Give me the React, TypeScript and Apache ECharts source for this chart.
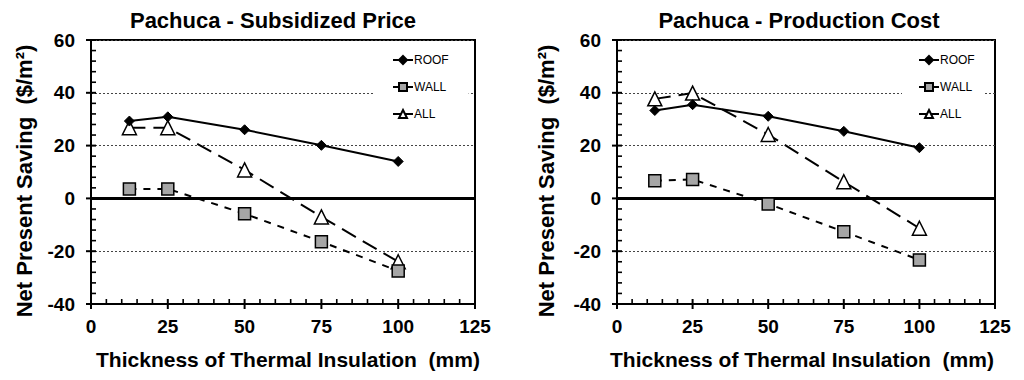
import React, { useEffect, useRef } from "react";
import * as echarts from "echarts";

const xValues = [12.5, 25, 50, 75, 100];
const seriesNames = ["ROOF", "WALL", "ALL"];
const subsidizedRoof = [29.3, 30.9, 26.0, 20.1, 14.0];
const subsidizedWall = [3.6, 3.6, -5.8, -16.4, -27.5];
const subsidizedAll = [26.8, 26.8, 10.8, -7.0, -24.0];
const productionRoof = [33.3, 35.5, 31.1, 25.4, 19.2];
const productionWall = [6.7, 7.2, -2.1, -12.6, -23.3];
const productionAll = [37.7, 39.9, 24.2, 6.3, -11.3];
const titles = ["Pachuca - Subsidized Price", "Pachuca - Production Cost"];
const xAxisTitle = "Thickness of Thermal Insulation  (mm)";
const yAxisTitle = "Net Present Saving  ($/m\u00B2)";
const xRange = { min: 0, max: 125, interval: 25 };
const yRange = { min: -40, max: 60, interval: 20 };

const xMajorTicks = [0, 25, 50, 75, 100, 125];
const xMinorTicks = [5, 10, 15, 20, 30, 35, 40, 45, 55, 60, 65, 70, 80, 85, 90, 95, 105, 110, 115, 120];
const yMajorTicks = [-40, -20, 0, 20, 40, 60];
const yMinorTicks = [-36, -32, -28, -24, -16, -12, -8, -4, 4, 8, 12, 16, 24, 28, 32, 36, 44, 48, 52, 56];

const FONT = "'Liberation Sans', Arial, sans-serif";

const grids = [
  { left: 91, top: 40, width: 384, height: 264 },
  { left: 617, top: 40, width: 378, height: 264 },
];

function pairs(vals: number[]) {
  return xValues.map((x, i) => [x, vals[i]]);
}

// kind: 0 = x major, 1 = x minor, 2 = y major, 3 = y minor
const tickData = [
  ...xMajorTicks.map((v) => [v, 0]),
  ...xMinorTicks.map((v) => [v, 1]),
  ...yMajorTicks.map((v) => [v, 2]),
  ...yMinorTicks.map((v) => [v, 3]),
];

function renderTick(params: any, api: any) {
  const v = api.value(0);
  const k = api.value(1);
  let x1, y1, x2, y2, w;
  if (k === 0 || k === 1) {
    const p = api.coord([v, yRange.min]);
    x1 = p[0];
    x2 = p[0];
    y1 = k === 0 ? p[1] + 5 : p[1];
    y2 = p[1] - 5;
    w = k === 0 ? 2 : 1.6;
  } else {
    const p = api.coord([xRange.min, v]);
    y1 = p[1];
    y2 = p[1];
    x1 = k === 2 ? p[0] - 5 : p[0];
    x2 = p[0] + 5;
    w = k === 2 ? 2 : 1.6;
  }
  return {
    type: "line",
    shape: { x1, y1, x2, y2 },
    style: { stroke: "#000", lineWidth: w },
  };
}

export default function App() {
  const ref = useRef<HTMLDivElement>(null);
  useEffect(() => {
    if (!ref.current) return;
    const chart = echarts.init(ref.current, null, { renderer: "svg" });

    const xAxes: any[] = [];
    const yAxes: any[] = [];
    grids.forEach((_, g) => {
      xAxes.push({
        type: "value",
        gridIndex: g,
        position: "bottom",
        ...xRange,
        axisLine: { show: true, onZero: false, lineStyle: { color: "#000", width: 2 } },
        axisTick: { show: false },
        minorTick: { show: false },
        axisLabel: { fontSize: 19, fontWeight: "bold", color: "#000", fontFamily: FONT, margin: 13 },
        splitLine: { show: false },
      });
      yAxes.push({
        type: "value",
        gridIndex: g,
        position: "left",
        ...yRange,
        axisLine: { show: true, onZero: false, lineStyle: { color: "#000", width: 2 } },
        axisTick: { show: false },
        minorTick: { show: false },
        axisLabel: { fontSize: 19, fontWeight: "bold", color: "#000", fontFamily: FONT, margin: 16 },
        splitLine: { show: true, lineStyle: { color: "#444", width: 1, type: [2, 2] } },
      });
    });

    const dataSets = [
      [subsidizedRoof, subsidizedWall, subsidizedAll],
      [productionRoof, productionWall, productionAll],
    ];

    const series: any[] = [];
    dataSets.forEach((set, g) => {
      series.push({
        name: "ROOF",
        type: "line",
        xAxisIndex: g,
        yAxisIndex: g,
        data: pairs(set[0]),
        symbol: "diamond",
        symbolSize: 10,
        lineStyle: { color: "#000", width: 2, type: "solid" },
        itemStyle: { color: "#000", borderColor: "#000", borderWidth: 1 },
        z: 5,
        markLine: {
          silent: true,
          symbol: "none",
          label: { show: false },
          lineStyle: { color: "#000", width: 3, type: "solid" },
          data: [{ yAxis: 0 }],
          z: 1,
        },
      });
      series.push({
        name: "WALL",
        type: "line",
        xAxisIndex: g,
        yAxisIndex: g,
        data: pairs(set[1]),
        symbol: "rect",
        symbolSize: 12,
        lineStyle: { color: "#000", width: 2, type: [7, 7] },
        itemStyle: { color: "#a6a6a6", borderColor: "#000", borderWidth: 1.5 },
        z: 4,
      });
      series.push({
        name: "ALL",
        type: "line",
        xAxisIndex: g,
        yAxisIndex: g,
        data: pairs(set[2]),
        symbol: "triangle",
        symbolSize: 14,
        lineStyle: { color: "#000", width: 2, type: [16, 8] },
        itemStyle: { color: "#fff", borderColor: "#000", borderWidth: 1.5 },
        z: 3,
      });
      series.push({
        type: "custom",
        name: "ticks" + g,
        xAxisIndex: g,
        yAxisIndex: g,
        silent: true,
        clip: false,
        z: 6,
        data: tickData,
        renderItem: renderTick,
        tooltip: { show: false },
      });
    });

    const legendBase = {
      data: seriesNames,
      orient: "vertical",
      top: 46,
      itemWidth: 20,
      itemHeight: 10,
      itemGap: 15,
      backgroundColor: "#fff",
      textStyle: { fontSize: 12, fontFamily: FONT, color: "#000", padding: [0, 0, 0, -4] },
      lineStyle: { type: "solid", width: 2 },
      selectedMode: false,
    };

    chart.setOption({
      animation: false,
      backgroundColor: "#fff",
      title: [
        {
          text: titles[0],
          left: 273,
          top: 9,
          padding: 0,
          textAlign: "center",
          textStyle: { fontSize: 22, fontWeight: "bold", color: "#000", fontFamily: FONT },
        },
        {
          text: titles[1],
          left: 799,
          top: 9,
          padding: 0,
          textAlign: "center",
          textStyle: { fontSize: 22, fontWeight: "bold", color: "#000", fontFamily: FONT },
        },
      ],
      legend: [
        { ...legendBase, left: 375, padding: [8, 20, 8, 17] },
        { ...legendBase, left: 902, padding: [8, 10, 8, 16] },
      ],
      grid: grids.map((g) => ({
        ...g,
        show: true,
        borderColor: "#000",
        borderWidth: 2,
        backgroundColor: "transparent",
        containLabel: false,
      })),
      xAxis: xAxes,
      yAxis: yAxes,
      series,
      graphic: [
        {
          type: "text",
          x: 288,
          y: 359,
          style: { text: xAxisTitle, fontSize: 21, fontWeight: "bold", fontFamily: FONT, fill: "#000", align: "center", verticalAlign: "middle" },
        },
        {
          type: "text",
          x: 802,
          y: 359,
          style: { text: xAxisTitle, fontSize: 21, fontWeight: "bold", fontFamily: FONT, fill: "#000", align: "center", verticalAlign: "middle" },
        },
        {
          type: "text",
          x: 24,
          y: 181,
          rotation: Math.PI / 2,
          style: { text: yAxisTitle, fontSize: 22, fontWeight: "bold", fontFamily: FONT, fill: "#000", align: "center", verticalAlign: "middle" },
        },
        {
          type: "text",
          x: 546,
          y: 181,
          rotation: Math.PI / 2,
          style: { text: yAxisTitle, fontSize: 22, fontWeight: "bold", fontFamily: FONT, fill: "#000", align: "center", verticalAlign: "middle" },
        },
      ],
    });
    return () => chart.dispose();
  }, []);
  return (
    <div
      ref={ref}
      style={{ position: "absolute", left: 0, top: 0, width: 1024, height: 380, background: "#fff" }}
    />
  );
}
